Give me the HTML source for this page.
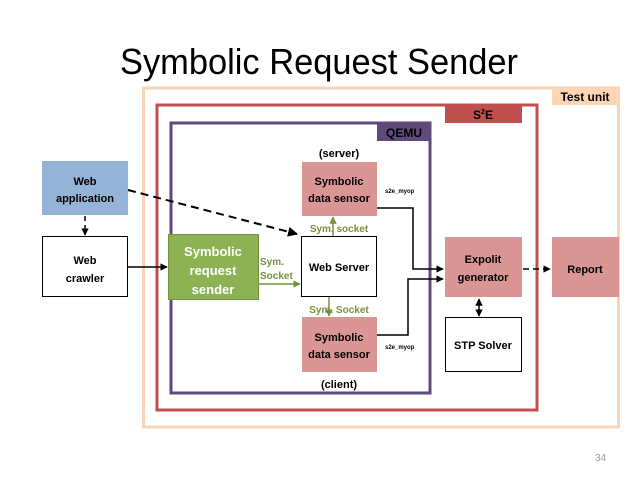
<!DOCTYPE html>
<html><head><meta charset="utf-8"><style>
body{margin:0;background:#fff;width:638px;height:479px;overflow:hidden}
svg{display:block}
text{font-family:"Liberation Sans",sans-serif;font-weight:bold;fill:#000}
</style></head><body>
<svg width="638" height="479" viewBox="0 0 638 479">
<defs>
<marker id="a" viewBox="0 0 10 10" refX="9" refY="5" markerWidth="5" markerHeight="5" orient="auto-start-reverse"><path d="M0,0L10,5L0,10z" fill="#000"/></marker>
<marker id="g" viewBox="0 0 10 10" refX="9" refY="5" markerWidth="5" markerHeight="5" orient="auto"><path d="M0,0L10,5L0,10z" fill="#76923c"/></marker>
</defs>
<text x="120" y="74" font-size="36" style="font-weight:normal" textLength="398" lengthAdjust="spacingAndGlyphs">Symbolic Request Sender</text>
<!-- Test unit -->
<rect x="143.5" y="88" width="475" height="339" fill="none" stroke="#f9d4b6" stroke-width="3"/>
<rect x="552" y="88" width="67" height="17" fill="#fbd5b5"/>
<text x="585" y="101" font-size="12" text-anchor="middle">Test unit</text>
<!-- S2E -->
<rect x="157" y="105" width="380" height="305" fill="none" stroke="#c0504d" stroke-width="3"/>
<rect x="445" y="105" width="77" height="18" fill="#c0504d"/>
<text x="483" y="119" font-size="12" text-anchor="middle">S<tspan font-size="7" dy="-5">2</tspan><tspan dy="5">E</tspan></text>
<!-- QEMU -->
<rect x="171" y="123" width="259" height="270" fill="none" stroke="#604a7b" stroke-width="3"/>
<rect x="377" y="123" width="53" height="18" fill="#604a7b"/>
<text x="404" y="137" font-size="12" text-anchor="middle">QEMU</text>
<!-- left boxes -->
<rect x="42" y="161" width="86" height="54" fill="#95b3d7"/>
<text x="85" y="185" font-size="11" text-anchor="middle">Web</text>
<text x="85" y="202" font-size="11" text-anchor="middle">application</text>
<rect x="42.5" y="236.5" width="85" height="60" fill="#fff" stroke="#000"/>
<text x="85" y="264" font-size="11" text-anchor="middle">Web</text>
<text x="85" y="282" font-size="11" text-anchor="middle">crawler</text>
<line x1="85" y1="216" x2="85" y2="235" stroke="#000" stroke-width="1.5" stroke-dasharray="5,4" marker-end="url(#a)"/>
<line x1="128" y1="190" x2="297" y2="234" stroke="#000" stroke-width="2" stroke-dasharray="8,5" marker-end="url(#a)"/>
<line x1="128" y1="267" x2="167" y2="267" stroke="#000" stroke-width="1.5" marker-end="url(#a)"/>
<!-- green -->
<rect x="168.5" y="234.5" width="90" height="65" fill="#8db253" stroke="#76923c"/>
<text x="213" y="256" font-size="13" text-anchor="middle" style="fill:#fff">Symbolic</text>
<text x="213" y="275" font-size="13" text-anchor="middle" style="fill:#fff">request</text>
<text x="213" y="294" font-size="13" text-anchor="middle" style="fill:#fff">sender</text>
<text x="260" y="265" font-size="10" style="fill:#76923c">Sym.</text>
<text x="260" y="279" font-size="10" style="fill:#76923c">Socket</text>
<line x1="259" y1="284" x2="300" y2="284" stroke="#76923c" stroke-width="1.5" marker-end="url(#g)"/>
<!-- sensors -->
<text x="339" y="157" font-size="11" text-anchor="middle">(server)</text>
<rect x="302" y="162" width="75" height="54" fill="#d99694"/>
<text x="339" y="185" font-size="11" text-anchor="middle">Symbolic</text>
<text x="339" y="202" font-size="11" text-anchor="middle">data sensor</text>
<rect x="301.5" y="236.5" width="75" height="60" fill="#fff" stroke="#000"/>
<text x="339" y="271" font-size="11" text-anchor="middle">Web Server</text>
<rect x="302" y="317" width="75" height="55" fill="#d99694"/>
<text x="339" y="341" font-size="11" text-anchor="middle">Symbolic</text>
<text x="339" y="358" font-size="11" text-anchor="middle">data sensor</text>
<text x="339" y="388" font-size="11" text-anchor="middle">(client)</text>
<text x="339" y="232" font-size="10" text-anchor="middle" style="fill:#76923c">Sym. socket</text>
<text x="339" y="313" font-size="10" text-anchor="middle" style="fill:#76923c">Sym. Socket</text>
<line x1="333" y1="236" x2="333" y2="217" stroke="#76923c" stroke-width="1.5" marker-end="url(#g)"/>
<line x1="329" y1="297" x2="329" y2="316" stroke="#76923c" stroke-width="1.5" marker-end="url(#g)"/>
<text x="385" y="193" font-size="6">s2e_myop</text>
<text x="385" y="349" font-size="6">s2e_myop</text>
<polyline points="377,208 413,208 413,269 443,269" fill="none" stroke="#000" stroke-width="1.5" marker-end="url(#a)"/>
<polyline points="377,335 408,335 408,279 443,279" fill="none" stroke="#000" stroke-width="1.5" marker-end="url(#a)"/>
<!-- right -->
<rect x="445" y="237" width="77" height="60" fill="#d99694"/>
<text x="483" y="263" font-size="11" text-anchor="middle">Expolit</text>
<text x="483" y="281" font-size="11" text-anchor="middle">generator</text>
<rect x="552" y="237" width="67" height="60" fill="#d99694"/>
<text x="585" y="273" font-size="11" text-anchor="middle">Report</text>
<rect x="445.5" y="317.5" width="76" height="54" fill="#fff" stroke="#000"/>
<text x="483" y="349" font-size="11" text-anchor="middle">STP Solver</text>
<line x1="479" y1="299" x2="479" y2="316" stroke="#000" stroke-width="1.5" marker-start="url(#a)" marker-end="url(#a)"/>
<line x1="523" y1="269" x2="550" y2="269" stroke="#000" stroke-width="1.5" stroke-dasharray="6,4" marker-end="url(#a)"/>
<text x="595" y="461" font-size="10" style="font-weight:normal;fill:#999">34</text>
</svg>
</body></html>
